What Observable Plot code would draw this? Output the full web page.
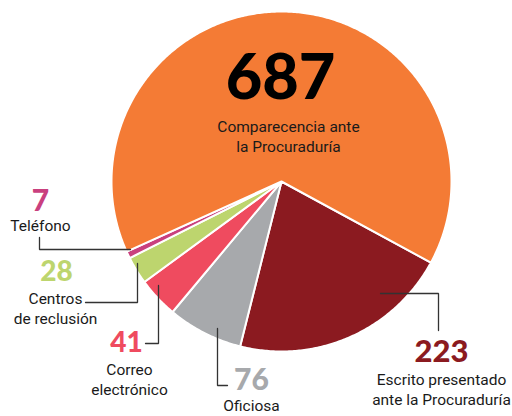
<!DOCTYPE html>
<html>
<head>
<meta charset="utf-8">
<script src="https://cdn.jsdelivr.net/npm/d3@7"></script>
<script src="https://cdn.jsdelivr.net/npm/@observablehq/plot@0.6"></script>
<style>
  html, body { margin: 0; padding: 0; background: #fff; }
  #chart svg { display: block; }
</style>
</head>
<body>
<div id="chart"></div>
<script>
// ---- data ----
const categories = ["Escrito presentado ante la Procuraduría", "Oficiosa", "Correo electrónico", "Centros de reclusión", "Teléfono", "Comparecencia ante la Procuraduría"];
const values = [223, 76, 41, 28, 7, 687];
const labelLines = [["Escrito presentado", "ante la Procuraduría"], ["Oficiosa"], ["Correo", "electrónico"], ["Centros", "de reclusión"], ["Teléfono"], ["Comparecencia ante", "la Procuraduría"]];
const colors = ["#8B1A20", "#A7A9AC", "#EF4B5F", "#BDD56E", "#C9407E", "#F47B35"];
const numberColors = ["#8B1A20", "#A7A9AC", "#EF4B5F", "#BDD56E", "#C9407E", "#000000"];

// ---- layout (pixels) ----
const W = 512, H = 416, CX = 281, CY = 181, R = 170;
const ux = px => (px - CX) / R;
const uy = py => (CY - py) / R;
// number position, label position, number size, leader line
const layout = [
  {num: [441, 352], lab: [441, 388], size: 31, leader: [[380, 293], [438, 293], [438, 330]]},
  {num: [251, 380], lab: [251, 404], size: 30, leader: [[217, 328], [217, 385], [227, 385]]},
  {num: [126, 343], lab: [129, 378], size: 28, leader: [[158, 285], [158, 343], [145, 343]]},
  {num: [56, 272], lab: [55, 307], size: 28, leader: [[137, 263], [137, 302], [85, 302]]},
  {num: [40, 201], lab: [40, 224], size: 30, leader: [[39, 237], [39, 249], [130, 249]]},
  {num: [280, 78], lab: [288, 135], size: 63, leader: null}
];

// ---- slices ----
const pie = d3.pie().sort(null).value(d => d).startAngle(118.5 * Math.PI / 180).endAngle((118.5 + 360) * Math.PI / 180);
const arcs = pie(values);
const slicePts = [];
arcs.forEach((a, i) => {
  const n = Math.max(4, Math.ceil((a.endAngle - a.startAngle) / 0.01));
  slicePts.push({k: i, x: 0, y: 0});
  for (let j = 0; j <= n; j++) {
    const t = a.startAngle + (a.endAngle - a.startAngle) * j / n;
    slicePts.push({k: i, x: Math.sin(t), y: Math.cos(t)});
  }
  slicePts.push({k: i, x: 0, y: 0});
});

const leaderPts = [];
layout.forEach((l, i) => { if (l.leader) l.leader.forEach(p => leaderPts.push({k: i, x: ux(p[0]), y: uy(p[1])})); });

const nums = values.map((v, i) => ({v, i, x: ux(layout[i].num[0]), y: uy(layout[i].num[1]), size: layout[i].size, color: numberColors[i]}));
const labs = labelLines.map((ls, i) => ({t: ls.join("\n"), i, x: ux(layout[i].lab[0]), y: uy(layout[i].lab[1])}));

const numFont = "Lato";
const plot = Plot.plot({
  width: W, height: H,
  margin: 0,
  x: {domain: [ux(0), ux(W)], axis: null},
  y: {domain: [uy(H), uy(0)], axis: null},
  marks: [
    Plot.line(slicePts, {x: "x", y: "y", z: "k", fill: d => colors[d.k], stroke: "white", strokeWidth: 2, strokeLinejoin: "round", curve: "linear"}),
    Plot.line(leaderPts, {x: "x", y: "y", z: "k", stroke: "#333", strokeWidth: 1.3, strokeLinejoin: "miter"}),
    ...nums.map(d => Plot.text([d], {x: "x", y: "y", text: d => String(d.v), fill: d.color, fontSize: d.size, fontWeight: 900, fontFamily: numFont})),
    Plot.text(labs, {x: "x", y: "y", text: "t", fill: "#1a1a1a", fontSize: 15.5, lineHeight: 1.29, fontFamily: "Roboto", letterSpacing: "-0.2px"})
  ]
});
document.getElementById("chart").appendChild(plot);
</script>
</body>
</html>
